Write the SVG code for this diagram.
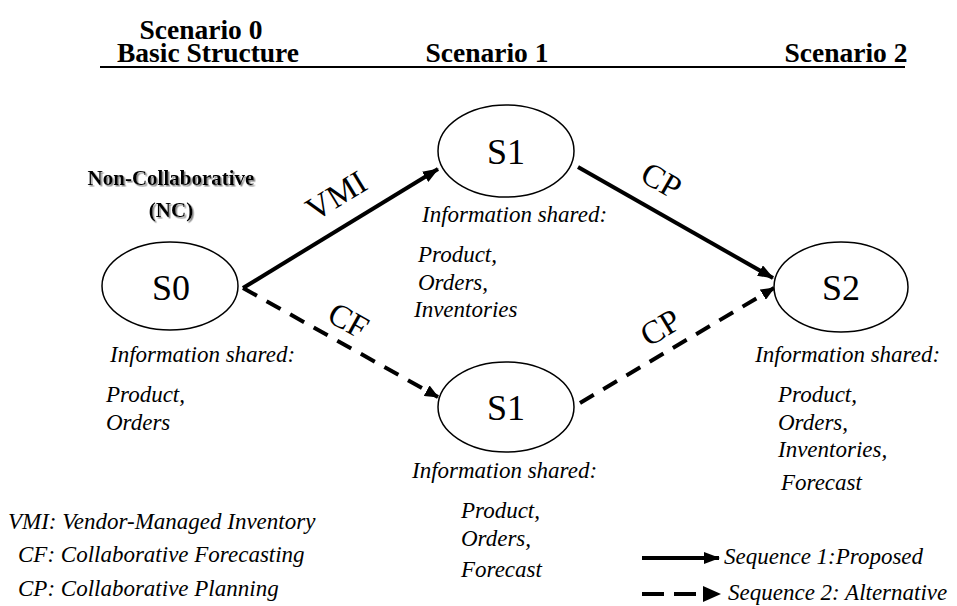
<svg xmlns="http://www.w3.org/2000/svg" width="957" height="606" viewBox="0 0 957 606">
<defs>
<style>
text{font-family:'Liberation Serif','Times New Roman','DejaVu Serif',serif}
.hdr{font-weight:bold;font-size:27.5px;fill:#000}
.node{fill:#fff;stroke:#000;stroke-width:1.5}
.nlab{font-size:36px;fill:#000;text-anchor:middle}
.it{font-style:italic;font-size:23px;fill:#000}
.elab{font-size:33px;fill:#000;text-anchor:middle}
.solid{stroke:#000;stroke-width:4;fill:none}
.dash{stroke:#000;stroke-width:4;fill:none;stroke-dasharray:16 11}
.nc{font-weight:bold;font-size:21px;fill:#000;text-anchor:middle;filter:url(#sh)}
</style>
<marker id="ah" markerWidth="16" markerHeight="12" refX="15" refY="6" orient="auto" markerUnits="userSpaceOnUse">
<path d="M0,0 L16,6 L0,12 Z" fill="#000"/>
</marker>
<marker id="ahs" markerWidth="14" markerHeight="12" refX="13" refY="6" orient="auto" markerUnits="userSpaceOnUse">
<path d="M0,0 L14,6 L0,12 Z" fill="#000"/>
</marker>
<filter id="sh" x="-10%" y="-30%" width="120%" height="160%">
<feDropShadow dx="1.5" dy="1.5" stdDeviation="0.6" flood-color="#888"/>
</filter>
</defs>
<rect width="957" height="606" fill="#fff"/>

<g id="header">
<text class="hdr" x="201" y="39" text-anchor="middle">Scenario 0</text>
<text class="hdr" x="208" y="62" text-anchor="middle">Basic Structure</text>
<text class="hdr" x="487" y="62" text-anchor="middle">Scenario 1</text>
<text class="hdr" x="846" y="62" text-anchor="middle">Scenario 2</text>
<line x1="100" y1="67" x2="905" y2="67" stroke="#000" stroke-width="2"/>
</g>

<g id="connectors">
<line class="solid" x1="243" y1="288" x2="438" y2="169" marker-end="url(#ah)"/>
<line class="dash" x1="243" y1="288" x2="438" y2="397" marker-end="url(#ahs)"/>
<line class="solid" x1="578" y1="167" x2="773" y2="278" marker-end="url(#ah)"/>
<line class="dash" x1="580" y1="403" x2="774" y2="288" marker-end="url(#ahs)"/>
<text class="elab" transform="translate(342,205) rotate(-31.4)">VMI</text>
<text class="elab" transform="translate(343,330) rotate(29.2)">CF</text>
<text class="elab" transform="translate(656,190) rotate(29.7)">CP</text>
<text class="elab" transform="translate(666,337) rotate(-31)">CP</text>
</g>

<g id="S0">
<text class="nc" x="171" y="185">Non-Collaborative</text>
<text class="nc" x="171" y="217">(NC)</text>
<ellipse class="node" cx="170" cy="286" rx="68" ry="44"/>
<text class="nlab" x="171" y="300">S0</text>
<text class="it" x="110" y="362">Information shared:</text>
<text class="it" x="106" y="402">Product,</text>
<text class="it" x="106" y="430">Orders</text>
</g>

<g id="S1a">
<ellipse class="node" cx="506" cy="151" rx="68" ry="46"/>
<text class="nlab" x="506" y="164">S1</text>
<text class="it" x="422" y="222">Information shared:</text>
<text class="it" x="418" y="262">Product,</text>
<text class="it" x="418" y="290">Orders,</text>
<text class="it" x="414" y="317">Inventories</text>
</g>

<g id="S1b">
<ellipse class="node" cx="506" cy="407" rx="68" ry="45"/>
<text class="nlab" x="506" y="420">S1</text>
<text class="it" x="412" y="478">Information shared:</text>
<text class="it" x="461" y="518">Product,</text>
<text class="it" x="461" y="546">Orders,</text>
<text class="it" x="461" y="577">Forecast</text>
</g>

<g id="S2">
<ellipse class="node" cx="841" cy="287" rx="67" ry="45"/>
<text class="nlab" x="841" y="300">S2</text>
<text class="it" x="755" y="362">Information shared:</text>
<text class="it" x="778" y="402">Product,</text>
<text class="it" x="778" y="430">Orders,</text>
<text class="it" x="778" y="457">Inventories,</text>
<text class="it" x="781" y="490">Forecast</text>
</g>

<g id="legend">
<text class="it" x="8" y="529">VMI: Vendor-Managed Inventory</text>
<text class="it" x="18" y="562">CF: Collaborative Forecasting</text>
<text class="it" x="18" y="596">CP: Collaborative Planning</text>
<line class="solid" x1="642" y1="558" x2="719" y2="558" stroke-width="3.5" marker-end="url(#ah)"/>
<text class="it" x="724" y="564">Sequence 1:Proposed</text>
<line x1="642" y1="594" x2="700" y2="594" stroke="#000" stroke-width="4" stroke-dasharray="22 10"/>
<path d="M703,586 L721,594 L703,602 Z" fill="#000"/>
<text class="it" x="728" y="600">Sequence 2: Alternative</text>
</g>
</svg>
